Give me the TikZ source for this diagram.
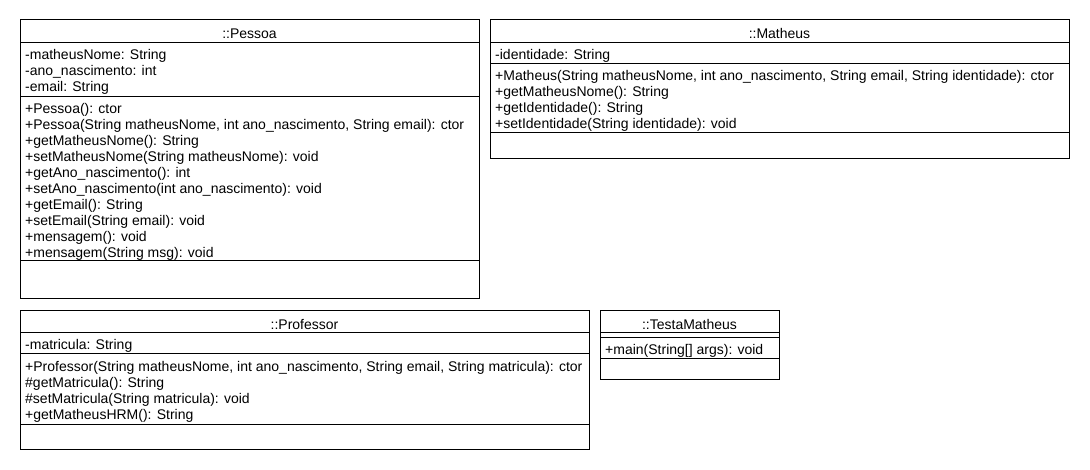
\documentclass[tikz,border=0pt]{standalone}
\usepackage{fontspec}
\setmainfont{Liberation Sans}
\tikzset{
  box/.style={draw=black, line width=1pt},
  txt/.style={inner sep=0pt, anchor=base west, font=\fontsize{14}{16}\selectfont, text=black},
  ttl/.style={inner sep=0pt, anchor=base, font=\fontsize{14}{16}\selectfont, text=black},
}
\newcommand\umlbox[7]{% #1 name, #2 x1, #3 x2, #4 ytop, #5 ybottom, #6 separators, #7 title
  \draw[box] (#2,#4) rectangle (#3,#5);
  \foreach \s in {#6} {\draw[box] (#2,\s) -- (#3,\s);}
  \node[ttl] (#1title) at ({(#2+#3)/2},{#4+19}) {#7};}
\newcommand\umllines[4]{% #1 prefix, #2 x, #3 first baseline, #4 lines
  \foreach \t [count=\i from 0] in {#4} {\node[txt] (#1\i) at ({#2+5},{#3+1+16*\i}) {\t};}}
\begin{document}
\begin{tikzpicture}[x=1pt,y=-1pt]
\fill[white] (0,0) rectangle (1090,470);
\useasboundingbox (0,0) rectangle (1090,470);

% Pessoa
\umlbox{pessoa}{20}{479}{20}{299}{43,97,261}{::Pessoa}
\umllines{pa}{20}{59}{{-matheusNome: String},{-ano\_nascimento: int},{-email: String}}
\umllines{pm}{20}{113}{{+Pessoa(): ctor},
  {+Pessoa(String matheusNome, int ano\_nascimento, String email): ctor},
  {+getMatheusNome(): String},
  {+setMatheusNome(String matheusNome): void},
  {+getAno\_nascimento(): int},
  {+setAno\_nascimento(int ano\_nascimento): void},
  {+getEmail(): String},
  {+setEmail(String email): void},
  {+mensagem(): void},
  {+mensagem(String msg): void}}

% Matheus
\umlbox{matheus}{490}{1069}{20}{159}{43,64,133}{::Matheus}
\umllines{ma}{490}{59}{{-identidade: String}}
\umllines{mm}{490}{80}{{+Matheus(String matheusNome, int ano\_nascimento, String email, String identidade): ctor},
  {+getMatheusNome(): String},
  {+getIdentidade(): String},
  {+setIdentidade(String identidade): void}}

% Professor
\umlbox{professor}{20}{589}{311}{449}{333,354,424}{::Professor}
\umllines{ra}{20}{349}{{-matricula: String}}
\umllines{rm}{20}{370}{{+Professor(String matheusNome, int ano\_nascimento, String email, String matricula): ctor},
  {\#getMatricula(): String},
  {\#setMatricula(String matricula): void},
  {+getMatheusHRM(): String}}

% TestaMatheus
\umlbox{testa}{600}{779}{311}{379}{333,338,359}{::TestaMatheus}
\umllines{tm}{600}{354}{{+main(String[] args): void}}
\end{tikzpicture}
\end{document}
